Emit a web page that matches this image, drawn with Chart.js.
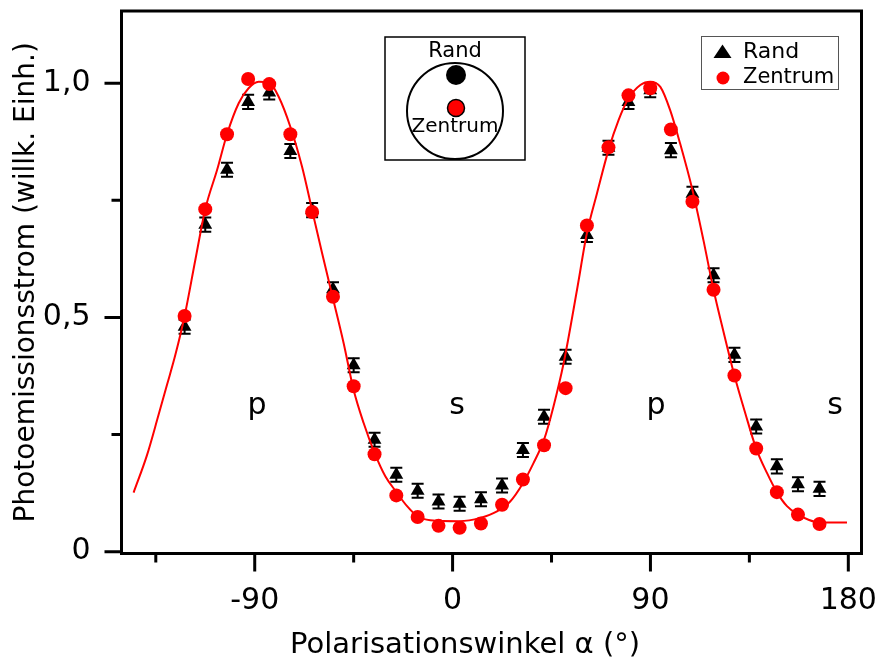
<!DOCTYPE html>
<html>
<head>
<meta charset="utf-8">
<script src="https://cdn.jsdelivr.net/npm/chart.js@4.4.0/dist/chart.umd.min.js"></script>
<style>
  html, body { margin: 0; padding: 0; background: #fff; }
  #wrap { width: 879px; height: 662px; position: relative; }
</style>
</head>
<body>
<div id="wrap"><canvas id="c" width="879" height="662"></canvas></div>
<script>
/* ── Data ─────────────────────────────────────────────────────── */
const ANGLES = [-121.9, -112.5, -102.6, -93.0, -83.4, -73.8, -63.9, -54.4, -45.0, -35.5,
  -25.6, -15.9, -6.4, 3.2, 12.9, 22.5, 32.0, 41.6, 51.4, 61.1,
  70.9, 80.0, 89.9, 99.3, 109.1, 118.7, 128.2, 138.1, 147.5, 157.1, 166.9];

const ZENTRUM = [0.503, 0.731, 0.891, 1.009, 0.998, 0.891, 0.725, 0.544, 0.353, 0.208,
  0.120, 0.074, 0.055, 0.051, 0.060, 0.100, 0.154, 0.227, 0.349, 0.696,
  0.863, 0.974, 0.989, 0.901, 0.747, 0.559, 0.376, 0.220, 0.127, 0.079, 0.059];

const RAND = [0.480, 0.698, 0.815, 0.960, 0.980, 0.855, 0.729, 0.560, 0.398, 0.239,
  0.164, 0.130, 0.107, 0.102, 0.112, 0.141, 0.217, 0.288, 0.416, 0.676,
  0.862, 0.960, 0.985, 0.857, 0.764, 0.590, 0.420, 0.267, 0.182, 0.144, 0.134];
const RAND_ERR = 0.015;

// fit curve, traced point by point
const CURVE_X = [-145.1, -139.0, -133.8, -129.9, -126.1, -121.9, -117.0, -112.5, -107.1, -102.6, -97.3, -92.8,
  -88.2, -83.4, -79.1, -73.8, -68.5, -63.9, -59.4, -54.6, -49.6, -45.0,
  -40.5, -35.5, -30.6, -25.7, -20.7, -15.9, -10.1, 3.2, 12.6, 20.2,
  26.2, 32.0, 36.8, 41.6, 45.9, 50.5, 56.6, 61.1, 65.7, 70.9,
  75.5, 80.0, 85.4, 89.9, 94.5, 99.0, 103.5, 109.1, 114.1, 118.7,
  123.2, 128.2, 133.1, 138.1, 143.0, 147.5, 152.1, 157.1, 161.9, 166.9, 179.4];
const CURVE_Y = [0.126, 0.206, 0.291, 0.356, 0.420, 0.503, 0.623, 0.731, 0.815, 0.891, 0.957, 0.989,
  1.003, 1.001, 0.971, 0.907, 0.822, 0.729, 0.638, 0.544, 0.446, 0.345,
  0.275, 0.211, 0.161, 0.128, 0.097, 0.075, 0.067, 0.065, 0.072, 0.086,
  0.107, 0.146, 0.189, 0.239, 0.310, 0.402, 0.559, 0.680, 0.765, 0.857,
  0.921, 0.967, 0.996, 1.003, 0.992, 0.942, 0.871, 0.772, 0.665, 0.559,
  0.470, 0.376, 0.296, 0.220, 0.168, 0.127, 0.097, 0.079, 0.068, 0.062, 0.062];

const X_TICKS = [-90, 0, 90, 180];
const X_MINOR = [-135, -45, 45, 135];
const Y_TICKS = [0, 0.5, 1.0];
const Y_MINOR = [0.25, 0.75];

const ANNOT_TEXT = ['p', 's', 'p', 's'];
const ANNOT_X = [-89, 2, 92.5, 174];
const ANNOT_Y = 0.293;

const FONT = "'DejaVu Sans', Verdana, sans-serif";
const RED = '#ff0000';

/* ── Decorations: frame, ticks, error bars, labels, inset, legend ── */
const decor = {
  id: 'decor',
  beforeDatasetDraw(chart, args) {
    if (chart.data.datasets[args.index].label !== 'Rand') return;
    const { ctx, scales: { x, y } } = chart;
    ctx.save();
    ctx.strokeStyle = '#000';
    ctx.lineWidth = 2;
    ANGLES.forEach((a, i) => {
      const px = x.getPixelForValue(a);
      const top = y.getPixelForValue(RAND[i] + RAND_ERR);
      const bot = y.getPixelForValue(RAND[i] - RAND_ERR);
      ctx.beginPath();
      ctx.moveTo(px, top); ctx.lineTo(px, bot);
      ctx.moveTo(px - 6, top); ctx.lineTo(px + 6, top);
      ctx.moveTo(px - 6, bot); ctx.lineTo(px + 6, bot);
      ctx.stroke();
    });
    ctx.restore();
  },
  afterDraw(chart) {
    const { ctx, chartArea: a, scales: { x, y } } = chart;
    ctx.save();

    // frame
    ctx.strokeStyle = '#000';
    ctx.lineWidth = 3;
    ctx.strokeRect(a.left, a.top, a.right - a.left, a.bottom - a.top);

    // ticks
    ctx.lineWidth = 3;
    ctx.beginPath();
    X_TICKS.forEach(v => { const p = x.getPixelForValue(v); ctx.moveTo(p, a.bottom); ctx.lineTo(p, a.bottom + 18); });
    X_MINOR.forEach(v => { const p = x.getPixelForValue(v); ctx.moveTo(p, a.bottom); ctx.lineTo(p, a.bottom + 9); });
    Y_TICKS.forEach(v => { const p = y.getPixelForValue(v); ctx.moveTo(a.left, p); ctx.lineTo(a.left - 17, p); });
    Y_MINOR.forEach(v => { const p = y.getPixelForValue(v); ctx.moveTo(a.left, p); ctx.lineTo(a.left - 10, p); });
    ctx.stroke();

    // x axis title (sits left of the plot centre in the original)
    ctx.fillStyle = '#000';
    ctx.font = `29px ${FONT}`;
    ctx.textAlign = 'center';
    ctx.textBaseline = 'alphabetic';
    ctx.fillText('Polarisationswinkel α (°)', 465, 653);

    // p / s labels
    ctx.font = `30px ${FONT}`;
    ANNOT_TEXT.forEach((t, i) => ctx.fillText(t, x.getPixelForValue(ANNOT_X[i]), y.getPixelForValue(ANNOT_Y)));

    // inset sketch
    ctx.lineWidth = 1.5;
    ctx.strokeRect(385, 37, 140, 123);
    ctx.lineWidth = 2;
    ctx.beginPath(); ctx.arc(455, 111, 48, 0, Math.PI * 2); ctx.stroke();
    ctx.beginPath(); ctx.arc(456, 75, 10, 0, Math.PI * 2); ctx.fill();
    ctx.fillStyle = RED;
    ctx.lineWidth = 1.5;
    ctx.beginPath(); ctx.arc(456, 108, 8.5, 0, Math.PI * 2); ctx.fill(); ctx.stroke();
    ctx.fillStyle = '#000';
    ctx.font = `21px ${FONT}`;
    ctx.textBaseline = 'middle';
    ctx.fillText('Rand', 455, 52);
    ctx.font = `20px ${FONT}`;
    ctx.fillText('Zentrum', 455, 127);

    // legend
    ctx.strokeStyle = '#555';
    ctx.lineWidth = 1;
    ctx.strokeRect(701.5, 36.5, 137, 53);
    ctx.fillStyle = '#000';
    ctx.beginPath();
    ctx.moveTo(722.5, 44.5); ctx.lineTo(731.5, 58); ctx.lineTo(713.5, 58); ctx.closePath();
    ctx.fill();
    ctx.fillStyle = RED;
    ctx.beginPath(); ctx.arc(723, 78, 6.5, 0, Math.PI * 2); ctx.fill();
    ctx.fillStyle = '#000';
    ctx.font = `22px ${FONT}`;
    ctx.textAlign = 'left';
    ctx.fillText('Rand', 743, 52);
    ctx.font = `21px ${FONT}`;
    ctx.fillText('Zentrum', 743, 78);

    ctx.restore();
  }
};

/* ── Chart ────────────────────────────────────────────────────── */
new Chart(document.getElementById('c'), {
  type: 'scatter',
  data: {
    datasets: [
      {
        label: 'Zentrum',
        data: ANGLES.map((a, i) => ({ x: a, y: ZENTRUM[i] })),
        pointStyle: 'circle', pointRadius: 7, pointBackgroundColor: RED, pointBorderWidth: 0,
      },
      {
        label: 'Fit',
        type: 'line',
        data: CURVE_X.map((a, i) => ({ x: a, y: CURVE_Y[i] })),
        borderColor: RED, borderWidth: 2, pointRadius: 0,
        cubicInterpolationMode: 'monotone', fill: false,
      },
      {
        label: 'Rand',
        data: ANGLES.map((a, i) => ({ x: a, y: RAND[i] })),
        pointStyle: 'triangle', pointRadius: 8, pointBackgroundColor: '#000', pointBorderWidth: 0,
      },
    ],
  },
  options: {
    responsive: false,
    animation: false,
    devicePixelRatio: 1,
    layout: { padding: { top: 11, right: 17.5, left: 0, bottom: 0 } },
    plugins: { legend: { display: false }, tooltip: { enabled: false } },
    scales: {
      x: {
        type: 'linear', min: -150.6, max: 186,
        afterBuildTicks: s => { s.ticks = X_TICKS.map(v => ({ value: v })); },
        afterFit: s => { s.height = 108.5; s.paddingLeft = 0; s.paddingRight = 0; },
        grid: { display: false }, border: { display: false },
        ticks: { color: '#000', padding: 22, font: { family: FONT, size: 30 }, callback: v => String(v) },
      },
      y: {
        type: 'linear', min: -0.004, max: 1.154,
        afterBuildTicks: s => { s.ticks = Y_TICKS.map(v => ({ value: v })); },
        afterFit: s => { s.width = 121.5; s.paddingTop = 0; s.paddingBottom = 0; },
        grid: { display: false }, border: { display: false },
        ticks: { color: '#000', padding: 23, font: { family: FONT, size: 30 },
          callback: v => v === 0 ? '0' : v.toFixed(1).replace('.', ',') },
        title: { display: true, text: 'Photoemissionsstrom (willk. Einh.)', color: '#000',
          font: { family: FONT, size: 28 }, padding: { top: 10, bottom: 0 } },
      },
    },
  },
  plugins: [decor],
});
</script>
</body>
</html>
